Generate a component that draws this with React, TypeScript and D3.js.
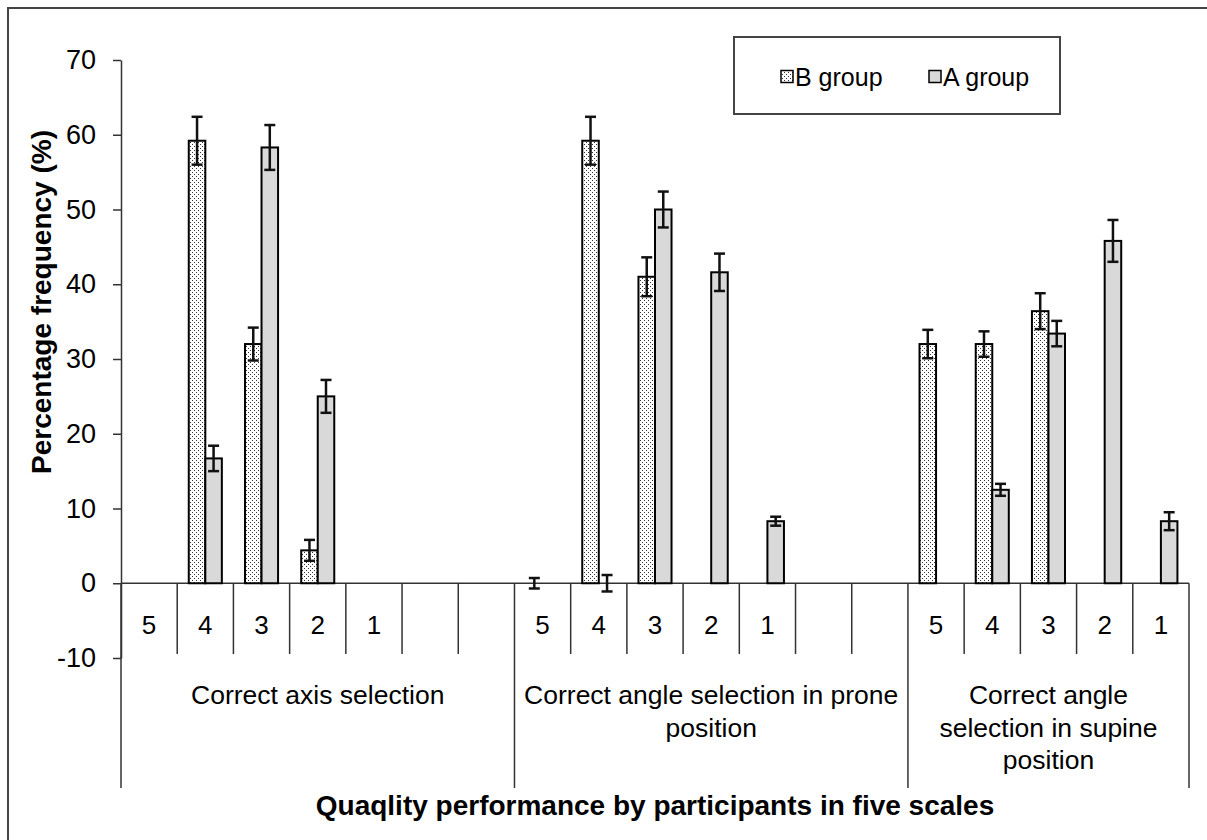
import React, { useEffect, useRef } from "react";
import * as d3 from "d3";

// slot labels along the bottom (19 slots, blanks are empty categories)
const slotLabels = ["5", "4", "3", "2", "1", "", "", "5", "4", "3", "2", "1", "", "", "5", "4", "3", "2", "1"];
const groupStarts = [0, 7, 14, 19];
const groupLines = [
  ["Correct axis selection"],
  ["Correct angle selection in prone", "position"],
  ["Correct angle", "selection in supine", "position"],
];

const bValues = [null, 59.2, 32.0, 4.4, null, null, null, 0, 59.2, 41.0, null, null, null, null, 32.0, 32.0, 36.4, null, null];
const bErr = [null, 3.2, 2.2, 1.4, null, null, null, 0.7, 3.2, 2.6, null, null, null, null, 1.9, 1.7, 2.4, null, null];
const aValues = [null, 16.7, 58.3, 25.0, null, null, null, null, 0, 50.0, 41.6, 8.3, null, null, null, 12.5, 33.4, 45.8, 8.3];
const aErr = [null, 1.7, 3.0, 2.2, null, null, null, null, 1.1, 2.4, 2.5, 0.6, null, null, null, 0.8, 1.7, 2.8, 1.2];

const yTicks = [-10, 0, 10, 20, 30, 40, 50, 60, 70];
const seriesNames = ["B group", "A group"];

const FONT = "'Liberation Sans', Arial, sans-serif";

export default function App() {
  const ref = useRef(null);

  useEffect(() => {
    const svg = d3.select(ref.current);
    svg.selectAll("*").remove();

    const left = 121, right = 1189;
    const x = d3.scaleBand().domain(d3.range(slotLabels.length)).range([left, right]).paddingInner(0).paddingOuter(0);
    const inner = d3.scaleBand().domain(["B", "A"]).range([0, x.bandwidth()]).paddingInner(0).paddingOuter(0.7);
    const y = d3.scaleLinear().domain([-10, 70]).range([658, 60]);
    const y0 = y(0);
    const catBottom = 654, groupBottom = 788;

    const defs = svg.append("defs");
    const pat = defs.append("pattern").attr("id", "dots").attr("width", 4).attr("height", 4).attr("patternUnits", "userSpaceOnUse");
    pat.append("rect").attr("width", 4).attr("height", 4).attr("fill", "#fff");
    pat.append("rect").attr("x", 0).attr("y", 0).attr("width", 1).attr("height", 1).attr("fill", "#333");
    pat.append("rect").attr("x", 2).attr("y", 2).attr("width", 1).attr("height", 1).attr("fill", "#333");

    // outer frame
    svg.append("rect").attr("x", 8).attr("y", 8).attr("width", 1300).attr("height", 900)
      .attr("fill", "#fff").attr("stroke", "#444").attr("stroke-width", 2);

    // y axis
    const yAxis = svg.append("g").attr("transform", `translate(${left},0)`)
      .call(d3.axisLeft(y).tickValues(yTicks).tickFormat((d) => String(d)).tickSize(8).tickSizeOuter(0).tickPadding(17));
    yAxis.select(".domain").attr("stroke", "#333").attr("stroke-width", 1.5);
    yAxis.selectAll(".tick line").attr("stroke", "#333").attr("stroke-width", 1.5);
    yAxis.selectAll(".tick text").attr("font-family", FONT).attr("font-size", 27).attr("fill", "#000");

    // category axis
    const cat = svg.append("g").attr("stroke", "#333").attr("stroke-width", 1.5);
    cat.append("line").attr("x1", left).attr("x2", right).attr("y1", y0).attr("y2", y0);
    d3.range(slotLabels.length + 1).forEach((i) => {
      const xx = i < slotLabels.length ? x(i) : right;
      const isGroup = groupStarts.includes(i);
      cat.append("line").attr("x1", xx).attr("x2", xx).attr("y1", y0).attr("y2", isGroup ? groupBottom : catBottom);
    });

    svg.append("g").selectAll("text").data(slotLabels).join("text")
      .attr("x", (d, i) => x(i) + x.bandwidth() / 2).attr("y", 625).attr("dy", "0.35em")
      .attr("text-anchor", "middle").attr("font-family", FONT).attr("font-size", 26).text((d) => d);

    groupLines.forEach((lines, g) => {
      const cx = (x(groupStarts[g]) + (groupStarts[g + 1] < slotLabels.length ? x(groupStarts[g + 1]) : right)) / 2;
      lines.forEach((t, k) => {
        svg.append("text").attr("x", cx).attr("y", 695 + k * 32.5).attr("dy", "0.35em")
          .attr("text-anchor", "middle").attr("font-family", FONT).attr("font-size", 26.5).text(t);
      });
    });

    // bars
    const series = [
      { key: "B", vals: bValues, errs: bErr, fill: "url(#dots)" },
      { key: "A", vals: aValues, errs: aErr, fill: "#d9d9d9" },
    ];
    series.forEach((s) => {
      svg.append("g").selectAll("rect")
        .data(s.vals.map((v, i) => ({ v, i })).filter((d) => d.v != null && d.v > 0))
        .join("rect")
        .attr("x", (d) => x(d.i) + inner(s.key))
        .attr("y", (d) => y(d.v))
        .attr("width", inner.bandwidth())
        .attr("height", (d) => y0 - y(d.v))
        .attr("fill", s.fill).attr("stroke", "#000").attr("stroke-width", 2);
    });

    // error bars
    series.forEach((s) => {
      const data = s.vals.map((v, i) => ({ v, e: s.errs[i], i })).filter((d) => d.v != null && d.e != null);
      const g = svg.append("g").attr("stroke", "#111").attr("stroke-width", 2.5);
      data.forEach((d) => {
        const cx = x(d.i) + inner(s.key) + inner.bandwidth() / 2;
        const top = y(d.v + d.e), bot = y(d.v - d.e);
        g.append("line").attr("x1", cx).attr("x2", cx).attr("y1", top).attr("y2", bot);
        g.append("line").attr("x1", cx - 5.5).attr("x2", cx + 5.5).attr("y1", top).attr("y2", top);
        g.append("line").attr("x1", cx - 5.5).attr("x2", cx + 5.5).attr("y1", bot).attr("y2", bot);
      });
    });

    // legend
    const lg = svg.append("g");
    lg.append("rect").attr("x", 734).attr("y", 37).attr("width", 326).attr("height", 77)
      .attr("fill", "#fff").attr("stroke", "#444").attr("stroke-width", 2);
    const legX = [781, 929];
    seriesNames.forEach((n, i) => {
      lg.append("rect").attr("x", legX[i]).attr("y", 70.5).attr("width", 12).attr("height", 12)
        .attr("fill", series[i].fill).attr("stroke", "#000").attr("stroke-width", 1.5);
      lg.append("text").attr("x", legX[i] + 14).attr("y", 77).attr("dy", "0.35em")
        .attr("font-family", FONT).attr("font-size", 25).text(n);
    });

    // axis titles
    svg.append("text").attr("x", (left + right) / 2).attr("y", 805).attr("dy", "0.35em")
      .attr("text-anchor", "middle").attr("font-family", FONT).attr("font-weight", "bold").attr("font-size", 28)
      .text("Quaqlity performance by participants in five scales");
    svg.append("text").attr("transform", "translate(41,302) rotate(-90)").attr("dy", "0.35em")
      .attr("text-anchor", "middle").attr("font-family", FONT).attr("font-weight", "bold").attr("font-size", 28)
      .text("Percentage frequency (%)");
  }, []);

  return (
    <svg ref={ref} width={1207} height={840} style={{ position: "absolute", left: 0, top: 0, background: "#fff" }} />
  );
}
